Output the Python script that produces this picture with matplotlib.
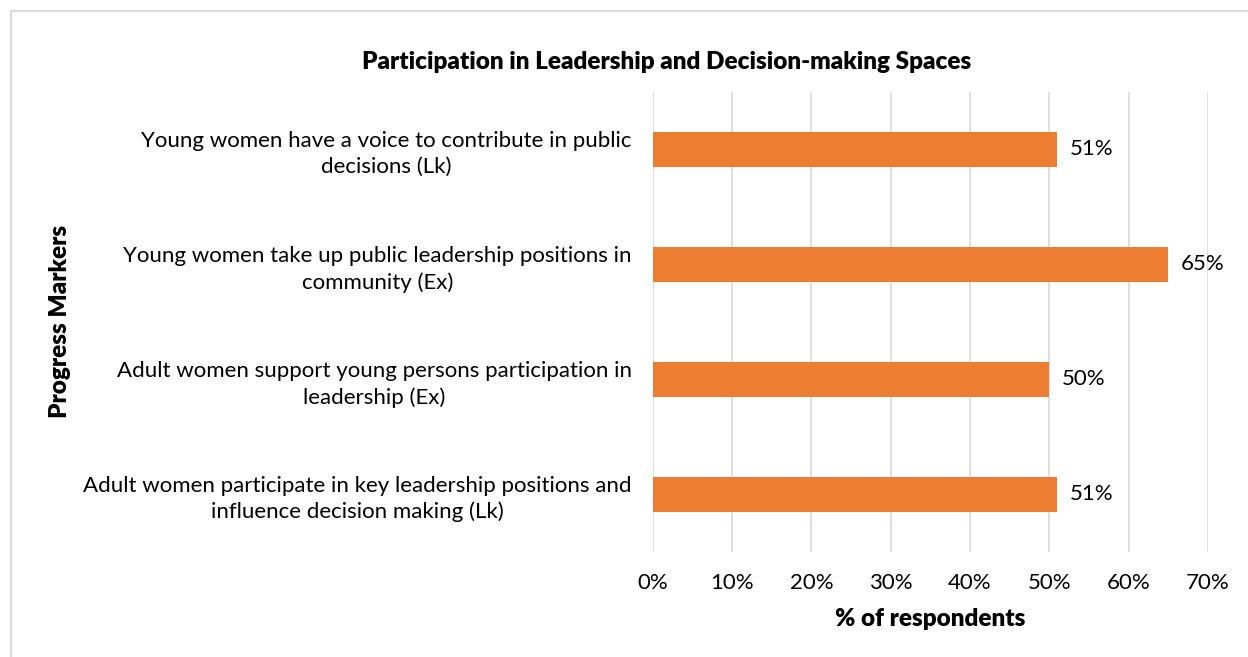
import matplotlib as mpl
mpl.use('agg')
import matplotlib.pyplot as plt
from matplotlib.patches import Rectangle

plt.rcParams['font.family'] = ['Lato', 'DejaVu Sans']

# data
markers = [
    'Young women have a voice to contribute in public\ndecisions (Lk)',
    'Young women take up public leadership positions in\ncommunity (Ex)',
    'Adult women support young persons participation in\nleadership (Ex)',
    'Adult women participate in key leadership positions and\ninfluence decision making (Lk)',
]
values = [51, 65, 50, 51]
value_labels = ['51%', '65%', '50%', '51%']
xticks = [0, 10, 20, 30, 40, 50, 60, 70]

fig = plt.figure(figsize=(12.48, 6.57), dpi=100)
ax = fig.add_axes([0.523, 0.160, 0.445, 0.700])

pos = list(range(len(markers)))
ax.barh(pos, values, height=0.31, color='#ED7D31', zorder=3)
ax.set_ylim(len(markers) - 0.5, -0.5)
ax.set_xlim(0, 70)

for p, v, lab in zip(pos, values, value_labels):
    ax.annotate(lab, (v, p), xytext=(9, 0), textcoords='offset points',
                va='center', ha='left', fontsize=16, color='#000000')

ax.set_yticks(pos)
ax.set_yticklabels(markers, fontsize=16, ha='right', multialignment='center',
                   linespacing=1.35)
ax.tick_params(axis='y', length=0, pad=15)

ax.set_xticks(xticks)
ax.set_xticklabels([f'{t}%' for t in xticks], fontsize=16)
ax.tick_params(axis='x', length=0, pad=15)

ax.grid(axis='x', color='#D9D9D9', linewidth=1.2, zorder=0)
for s in ax.spines.values():
    s.set_visible(False)

ax.set_xlabel('% of respondents', fontsize=17.5, fontweight='heavy', labelpad=11)

fig.text(0.534, 0.906, 'Participation in Leadership and Decision-making Spaces',
         ha='center', va='center', fontsize=17.5, fontweight='heavy')
fig.text(0.048, 0.51, 'Progress Markers', rotation=90, ha='center', va='center',
         fontsize=17.5, fontweight='heavy')

fig.patches.append(Rectangle((11 / 1248, -0.01), 1.0, 1 - 11 / 657 + 0.01,
                             transform=fig.transFigure, fill=False,
                             edgecolor='#D9D9D9', linewidth=1.5))

fig.savefig('out.png', dpi=100)
